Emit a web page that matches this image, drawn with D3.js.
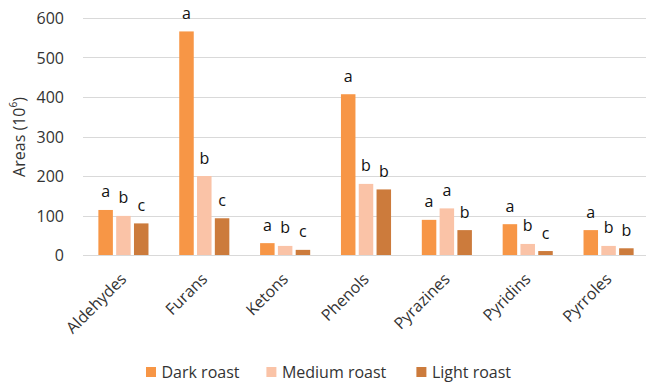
<!DOCTYPE html>
<html>
<head>
<meta charset="utf-8">
<script src="https://cdn.jsdelivr.net/npm/d3@7"></script>
<style>
  html, body { margin: 0; padding: 0; background: #fff; }
  svg { display: block; font-family: "Open Sans", sans-serif; }
</style>
</head>
<body>
<svg id="chart" width="646" height="387"></svg>
<script>
const categories = ["Aldehydes", "Furans", "Ketons", "Phenols", "Pyrazines", "Pyridins", "Pyrroles"];
const seriesNames = ["Dark roast", "Medium roast", "Light roast"];
const darkRoast   = [114, 566, 30, 407, 89, 78, 63];
const mediumRoast = [99, 200, 23, 180, 118, 28, 23];
const lightRoast  = [80, 93, 13, 166, 63, 10, 17];
const darkLetters   = ["a", "a", "a", "a", "a", "a", "a"];
const mediumLetters = ["b", "b", "b", "b", "a", "b", "b"];
const lightLetters  = ["c", "c", "c", "b", "b", "c", "b"];
const yTicks = [0, 100, 200, 300, 400, 500, 600];
const colors = ["#F79646", "#FAC3A7", "#CC7B3C"];

const seriesValues = [darkRoast, mediumRoast, lightRoast];
const seriesLetters = [darkLetters, mediumLetters, lightLetters];

const svg = d3.select("#chart");
const fontSize = 16;

const x0 = d3.scaleBand().domain(categories).range([83, 649]).padding(0);
const groupW = 50.1;
const x1 = d3.scaleBand().domain(seriesNames).range([0, groupW]).paddingInner(0.185).paddingOuter(0);
const y = d3.scaleLinear().domain([0, 600]).range([255, 18]);

// gridlines
svg.append("g").selectAll("line").data(yTicks).join("line")
  .attr("x1", 83).attr("x2", 646)
  .attr("y1", d => Math.round(y(d)) + 0.5).attr("y2", d => Math.round(y(d)) + 0.5)
  .attr("stroke", "#d9d9d9").attr("stroke-width", 1);

// y tick labels
svg.append("g").selectAll("text").data(yTicks).join("text")
  .attr("x", 64).attr("y", d => y(d))
  .attr("text-anchor", "end").attr("dominant-baseline", "central")
  .attr("font-size", fontSize).attr("fill", "#333")
  .text(d => d);

// y title
const yt = svg.append("text")
  .attr("transform", "translate(19,137) rotate(-90)")
  .attr("text-anchor", "middle").attr("dominant-baseline", "central")
  .attr("font-size", fontSize).attr("fill", "#333");
yt.append("tspan").text("Areas (10");
yt.append("tspan").attr("font-size", 10).attr("dy", -6).text("6");
yt.append("tspan").attr("dy", 6).text(")");

// bars
const off = (x0.bandwidth() - groupW) / 2;
seriesNames.forEach((s, si) => {
  const g = svg.append("g");
  g.selectAll("rect").data(categories).join("rect")
    .attr("x", c => x0(c) + off + x1(s))
    .attr("y", (c, i) => y(seriesValues[si][i]))
    .attr("width", x1.bandwidth())
    .attr("height", (c, i) => y(0) - y(seriesValues[si][i]))
    .attr("fill", colors[si]);
  g.selectAll("text").data(categories).join("text")
    .attr("x", c => x0(c) + off + x1(s) + x1.bandwidth() / 2)
    .attr("y", (c, i) => y(seriesValues[si][i]) - 12.5)
    .attr("text-anchor", "middle")
    .attr("font-size", fontSize).attr("fill", "#111")
    .text((c, i) => seriesLetters[si][i]);
});

// x labels
svg.append("g").selectAll("text").data(categories).join("text")
  .attr("transform", c => `translate(${x0(c) + x0.bandwidth() / 2 + 4},280) rotate(-45)`)
  .attr("text-anchor", "end")
  .attr("font-size", fontSize).attr("fill", "#333")
  .text(c => c);

// legend
const legendX = [146, 266.4, 416.4];
const lg = svg.append("g").selectAll("g").data(seriesNames).join("g")
  .attr("transform", (d, i) => `translate(${legendX[i]},367)`);
lg.append("rect").attr("width", 10).attr("height", 10).attr("fill", (d, i) => colors[i]);
lg.append("text").attr("x", 15.5).attr("y", 5).attr("dominant-baseline", "central")
  .attr("font-size", fontSize).attr("fill", "#333").text(d => d);
</script>
</body>
</html>
